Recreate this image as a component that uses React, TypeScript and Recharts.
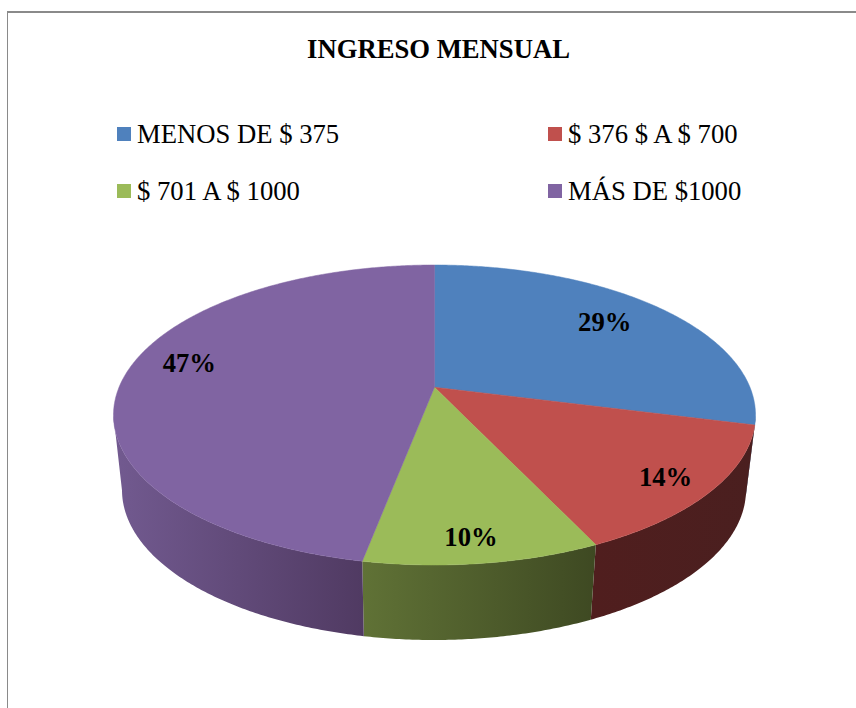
import React from "react";
import { PieChart, Pie, Legend } from "recharts";

const categories = ["MENOS DE $ 375", "$ 376 $ A $ 700", "$ 701 A $ 1000", "MÁS DE $1000"];
const shares = [29, 14, 10, 47];
const topColors = ["#4f81bd", "#c0504d", "#9bbb59", "#8064a2"];
const wallStops = [
  ["#2f4d72", "#2f4d72"],
  ["#501e1e", "#4a1f1f"],
  ["#607236", "#3e4922"],
  ["#725a90", "#503a62"],
];

const sliceRows = categories.map((name, i) => ({ name, value: shares[i], fill: topColors[i] }));
const wallRows = categories.map((name, i) => ({ name, value: shares[i], fill: `url(#wall-${i})` }));

// perspective of the disc: the apex sits above the middle of the ellipse
const TILT = 0.185;
const TOP = { cx: 434.5, cy: 415, rx: 321, ry: 150 };
const BOTTOM = { cx: 434, cy: 490, rx: 312, ry: 150 };

// label spot per slice, as a fraction of the radius plus a small nudge
const labelRadius = [0.745, 0.855, 0.88, 0.785];
const labelNudgeX = [-1, 0, -5, -2];
const labelNudgeY = [-4, 2, -1, -14];

const FONT_SIZE = 26.67;

function project(deg: number, r: number) {
  const rad = (deg * Math.PI) / 180;
  const u = r * Math.cos(rad);
  const v = -r * Math.sin(rad);
  const w = 1 - TILT * v;
  return { x: (u * Math.sqrt(1 - TILT * TILT)) / w, y: (v - TILT) / w };
}

function angles(start: number, end: number) {
  const list: number[] = [];
  const steps = Math.max(2, Math.ceil(Math.abs(end - start) * 2));
  for (let i = 0; i <= steps; i++) list.push(start + ((end - start) * i) / steps);
  return list;
}

function toScreen(e: typeof TOP, deg: number, r = 1) {
  const p = project(deg, r);
  return `${(e.cx + e.rx * p.x).toFixed(2)} ${(e.cy + e.ry * p.y).toFixed(2)}`;
}

function FaceShape(props: any) {
  const arc = angles(props.startAngle, props.endAngle).map((a) => toScreen(TOP, a));
  const d = `M${toScreen(TOP, 0, 0)} L${arc.join(" L")} Z`;
  return <path d={d} fill={props.fill} stroke={props.fill} strokeWidth={0.5} />;
}

function WallShape(props: any) {
  // only the part of the rim facing the viewer
  const front = angles(props.startAngle, props.endAngle).filter((a) => project(a, 1).y >= 0);
  if (front.length < 2) return null;
  const upper = front.map((a) => toScreen(TOP, a));
  const lower = [...front].reverse().map((a) => toScreen(BOTTOM, a));
  return <path d={`M${upper.join(" L")} L${lower.join(" L")} Z`} fill={props.fill} />;
}

function SliceLabel(props: any) {
  const p = project(props.midAngle, labelRadius[props.index]);
  return (
    <text
      x={TOP.cx + TOP.rx * p.x + labelNudgeX[props.index]}
      y={TOP.cy + TOP.ry * p.y + labelNudgeY[props.index]}
      textAnchor="middle"
      dominantBaseline="central"
      fontFamily="Liberation Serif"
      fontWeight="bold"
      fontSize={FONT_SIZE}
      fill="#000"
    >
      {props.value}%
    </text>
  );
}

function LegendBlock({ payload }: any) {
  // the wall pie shows up in the payload too, keep the top faces only
  const items = (payload ?? []).filter((item: any) => !String(item.color).startsWith("url"));
  return (
    <div
      style={{
        display: "grid",
        gridTemplateColumns: "431px 200px",
        rowGap: 29,
        fontFamily: "Liberation Serif",
        fontSize: FONT_SIZE,
        lineHeight: "28px",
        color: "#000",
      }}
    >
      {items.map((item: any) => (
        <div key={item.value} style={{ display: "flex", alignItems: "center", whiteSpace: "nowrap" }}>
          <span style={{ width: 14, height: 14, background: item.color, marginRight: 6, flex: "none" }} />
          {item.value}
        </div>
      ))}
    </div>
  );
}

export default function App() {
  return (
    <div style={{ position: "absolute", left: 0, top: 0, width: 856, height: 708, overflow: "hidden", background: "#fff" }}>
      <div
        style={{
          position: "absolute",
          left: 7,
          top: 11,
          right: 0,
          bottom: 0,
          borderLeft: "1.5px solid #8a8a8a",
          borderTop: "2px solid #8a8a8a",
        }}
      />
      <PieChart width={856} height={708} style={{ position: "absolute", left: 0, top: 0 }}>
        <defs>
          {wallStops.map((stops, i) => (
            <linearGradient key={i} id={`wall-${i}`} x1="0" y1="0" x2="1" y2="0">
              <stop offset="0%" stopColor={stops[0]} />
              <stop offset="100%" stopColor={stops[1]} />
            </linearGradient>
          ))}
        </defs>
        <text
          x={438.5}
          y={58}
          textAnchor="middle"
          fontFamily="Liberation Serif"
          fontWeight="bold"
          fontSize={FONT_SIZE}
          fill="#000"
        >
          INGRESO MENSUAL
        </text>
        <Legend
          content={<LegendBlock />}
          itemSorter={null}
          layout="horizontal"
          verticalAlign="top"
          align="left"
          wrapperStyle={{ left: 117, top: 120, width: 640 }}
        />
        <Pie
          data={wallRows}
          dataKey="value"
          nameKey="name"
          cx={TOP.cx}
          cy={TOP.cy}
          outerRadius={TOP.rx}
          startAngle={90}
          endAngle={-270}
          legendType="none"
          shape={WallShape}
          isAnimationActive={false}
        />
        <Pie
          data={sliceRows}
          dataKey="value"
          nameKey="name"
          cx={TOP.cx}
          cy={TOP.cy}
          outerRadius={TOP.rx}
          startAngle={90}
          endAngle={-270}
          shape={FaceShape}
          label={SliceLabel}
          labelLine={false}
          isAnimationActive={false}
        />
      </PieChart>
    </div>
  );
}
